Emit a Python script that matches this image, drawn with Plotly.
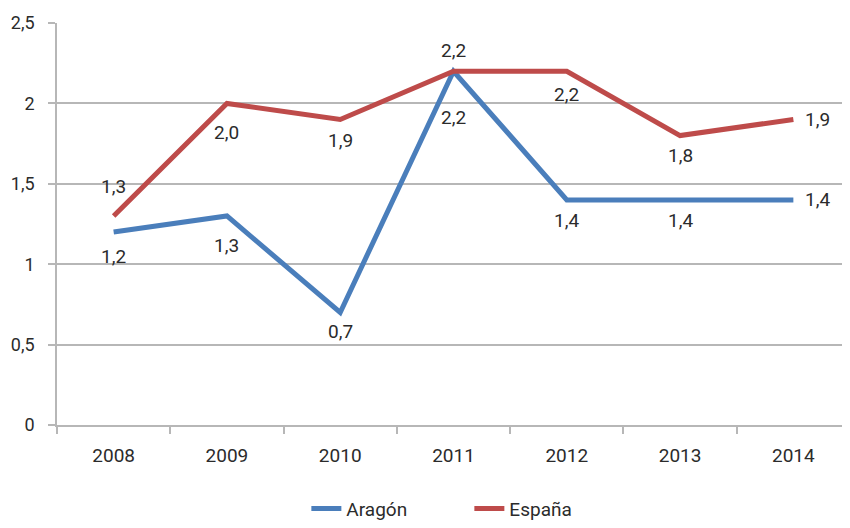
import plotly.graph_objects as go

years = ["2008", "2009", "2010", "2011", "2012", "2013", "2014"]
aragon = [1.2, 1.3, 0.7, 2.2, 1.4, 1.4, 1.4]
espana = [1.3, 2.0, 1.9, 2.2, 2.2, 1.8, 1.9]

BLUE = "#4a7ebb"
RED = "#be4b4a"
GRID = "#b7b7b7"
FONT = "Roboto"
TXT = "#2b2b2b"

# where each data label sits relative to its point (pixels)
aragon_shift = [24, 30, 19, 46, 21, 21, 0]
espana_shift = [-29, 29, 21, -21, 23, 20, 0]

fig = go.Figure()
fig.add_trace(go.Scatter(x=years, y=aragon, name="Aragón", mode="lines",
                         line=dict(color=BLUE, width=5)))
fig.add_trace(go.Scatter(x=years, y=espana, name="España", mode="lines",
                         line=dict(color=RED, width=5)))

def lab(v):
    return f"{v:.1f}".replace(".", ",")

for vals, shifts in [(aragon, aragon_shift), (espana, espana_shift)]:
    for i, v in enumerate(vals):
        last = i == len(years) - 1
        # category index: numeric-looking strings would be read as positions
        fig.add_annotation(x=i, y=v, text=lab(v), showarrow=False,
                           xanchor="left" if last else "center",
                           xshift=10 if last else 0, yshift=-shifts[i],
                           font=dict(family=FONT, size=19, color=TXT))

# page body adds an 8px margin, so the figure is 8px smaller and shifted
fig.update_layout(
    width=842, height=520,
    margin=dict(l=49, r=0, t=15, b=101),
    plot_bgcolor="white", paper_bgcolor="white",
    separators=",.",
    font=dict(family=FONT, size=19, color=TXT),
    showlegend=True,
    legend=dict(orientation="h", x=0.52, xanchor="center", y=-0.208, yanchor="middle",
                font=dict(family=FONT, size=19, color=TXT),
                entrywidth=118, entrywidthmode="pixels"),
)
fig.update_xaxes(type="category", range=[-0.5, 6.5], automargin=False,
                 showgrid=False, showline=True, linecolor=GRID, linewidth=1.5,
                 ticks="outside", tickson="boundaries", ticklen=7, tickcolor=GRID,
                 tickwidth=1.5, ticklabelstandoff=12, tickangle=0)
fig.update_yaxes(range=[0, 2.5], dtick=0.5, automargin=False,
                 showgrid=True, gridcolor=GRID, gridwidth=1.5,
                 showline=True, linecolor=GRID, linewidth=1.5, zeroline=False,
                 ticks="outside", ticklen=7, tickcolor=GRID, tickwidth=1.5,
                 tickfont=dict(size=18), ticklabelstandoff=10)

fig.write_html("out.html")
